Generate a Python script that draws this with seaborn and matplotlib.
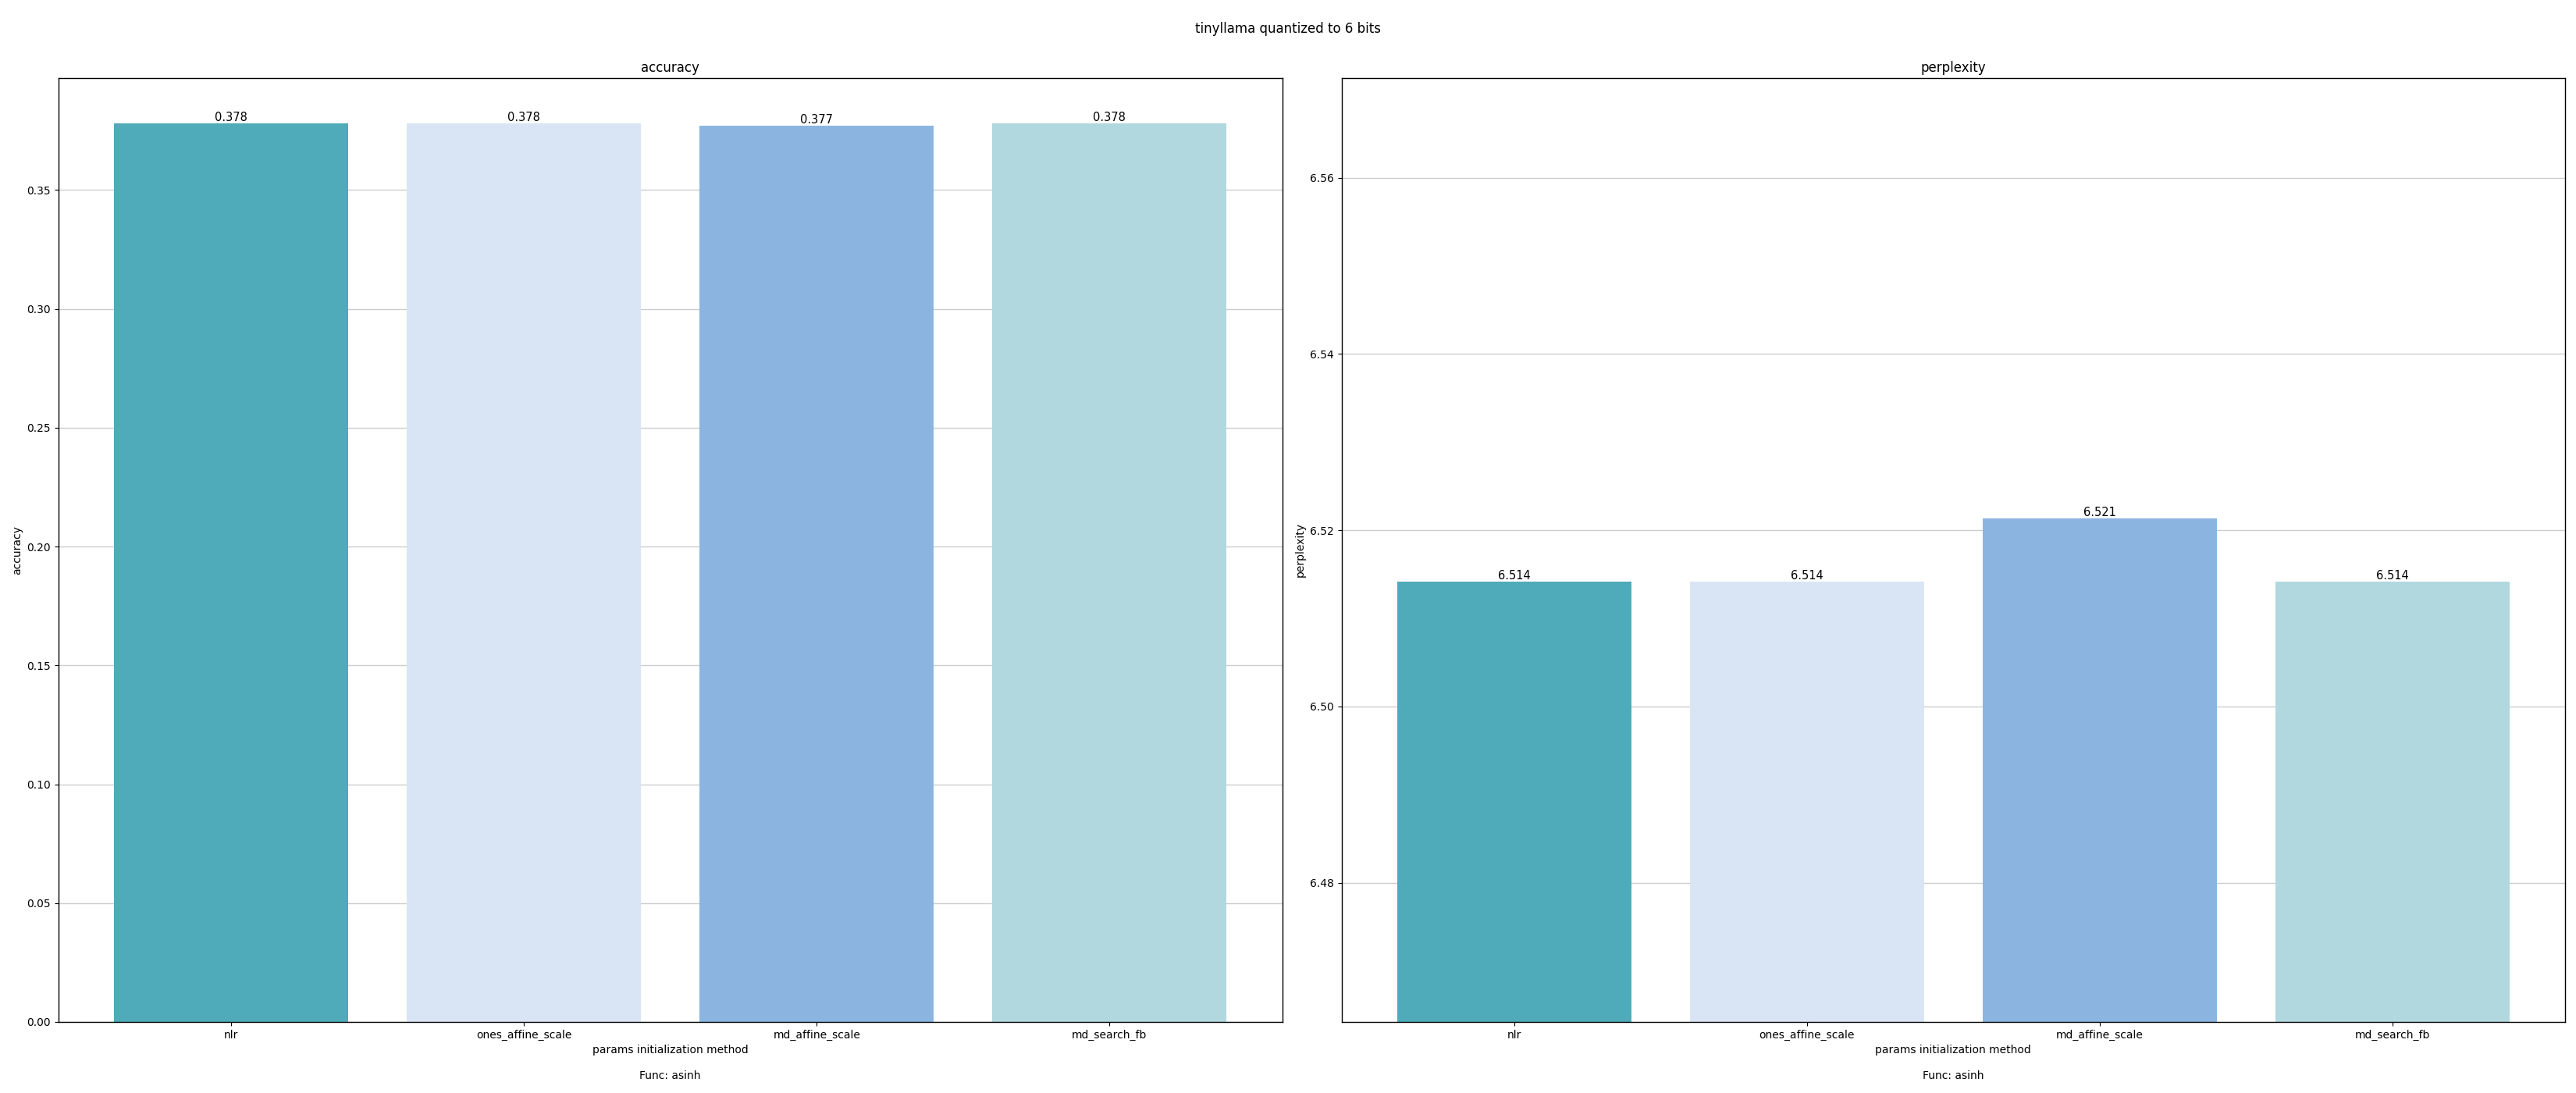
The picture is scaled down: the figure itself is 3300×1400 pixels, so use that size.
import matplotlib
matplotlib.use("Agg")
import matplotlib.pyplot as plt
import seaborn as sns
import pandas as pd

methods = ["nlr", "ones_affine_scale", "md_affine_scale", "md_search_fb"]
accuracy = [0.3782, 0.3781, 0.3772, 0.3781]
perplexity = [6.5142, 6.5142, 6.5213, 6.5142]
colors = ["#4FABBA", "#D9E5F4", "#8BB5E0", "#B0D8DE"]

suptitle = "tinyllama quantized to 6 bits"
xlabel = "params initialization method\n\nFunc: asinh"

df = pd.DataFrame({"method": methods, "accuracy": accuracy, "perplexity": perplexity})

fig, axes = plt.subplots(1, 2, figsize=(33, 14), dpi=100)
fig.subplots_adjust(left=0.0227, right=0.9958, top=0.9286, bottom=0.065, wspace=0.0485)

for ax, metric in zip(axes, ["accuracy", "perplexity"]):
    ax.set_axisbelow(True)
    ax.grid(axis="y", color="#cccccc", linewidth=1.0)
    sns.barplot(data=df, x="method", y=metric, hue="method", palette=colors,
                legend=False, ax=ax, saturation=1, width=0.8)
    for c in ax.containers:
        ax.bar_label(c, fmt="%.3f", fontsize=10.5)
    ax.set_xlim(-0.59, len(methods) - 1 + 0.59)
    ax.set_title(metric, fontsize=12)
    ax.set_ylabel(metric)
    ax.set_xlabel(xlabel)
    for s in ax.spines.values():
        s.set_linewidth(1.0)

axes[1].set_ylim(min(perplexity) - 0.05, max(perplexity) + 0.05)
fig.suptitle(suptitle, fontsize=12, y=0.98)

fig.savefig("out.png", dpi=100)
